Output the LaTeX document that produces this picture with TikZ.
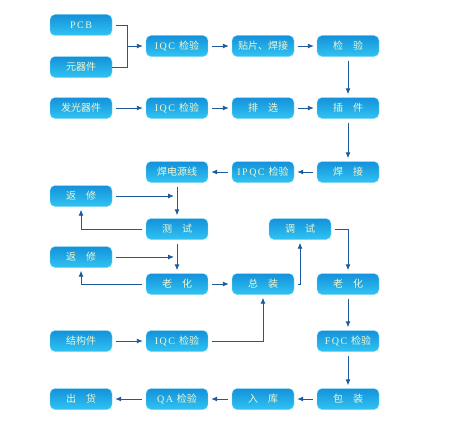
\documentclass[tikz,border=0pt]{standalone}
\usepackage{fontspec}
\usetikzlibrary{arrows.meta}
\newfontfamily\cjk{Noto Sans CJK SC}
\newfontfamily\lat[LetterSpace=15]{Liberation Serif}
\definecolor{boxtop}{RGB}{20,145,218}
\definecolor{boxbot}{RGB}{48,195,242}
\definecolor{boxtext}{RGB}{242,247,208}
\definecolor{conn}{RGB}{30,90,155}
\begin{document}
\begin{tikzpicture}[x=1pt,y=-1pt,
  box/.style={minimum width=62pt,minimum height=21pt,rounded corners=5pt,
    top color=boxtop,bottom color=boxbot,draw=boxbot!60!white,line width=0.4pt,
    text=boxtext,font=\fontsize{10}{11}\selectfont\cjk,inner sep=0pt},
  line/.style={draw=conn,line width=0.9pt},
  arr/.style={line,-{Latex[length=6pt,width=5pt]},shorten >=3pt,shorten <=4pt}]
\useasboundingbox (0,0) rectangle (449,428);
\node[box] (pcb) at (81,25) {\lat PCB};
\node[box] (yqj) at (81,67) {元器件};
\node[box] (iqc1) at (177,46) {\lat IQC \cjk 检验};
\node[box] (tp) at (263,46) {贴片、焊接};
\node[box] (jy) at (348,46) {检\quad 验};
\node[box] (fg) at (81,108) {发光器件};
\node[box] (iqc2) at (177,108) {\lat IQC \cjk 检验};
\node[box] (px) at (263,108) {排\quad 选};
\node[box] (cj) at (348,108) {插\quad 件};
\node[box] (hdy) at (177,172) {焊电源线};
\node[box] (ipqc) at (263,172) {\lat IPQC \cjk 检验};
\node[box] (hj) at (348,172) {焊\quad 接};
\node[box] (fx1) at (81,196) {返\quad 修};
\node[box] (cs) at (177,229) {测\quad 试};
\node[box] (ts) at (300,229) {调\quad 试};
\node[box] (fx2) at (81,257) {返\quad 修};
\node[box] (lh1) at (177,284) {老\quad 化};
\node[box] (zz) at (263,284) {总\quad 装};
\node[box] (lh2) at (348,284) {老\quad 化};
\node[box] (jgj) at (81,341) {结构件};
\node[box] (iqc3) at (177,341) {\lat IQC \cjk 检验};
\node[box] (fqc) at (348,341) {\lat FQC \cjk 检验};
\node[box] (ch) at (81,399) {出\quad 货};
\node[box] (qa) at (177,399) {\lat QA \cjk 检验};
\node[box] (rk) at (263,399) {入\quad 库};
\node[box] (bz) at (348,399) {包\quad 装};
\coordinate (b1) at (127,25);
\coordinate (b2) at (127,67);
\coordinate (bm) at (127,46);
\coordinate (j1) at (177,196);
\coordinate (j2) at (177,257);
\coordinate (e1) at (81,229);
\coordinate (e2) at (81,284);
\coordinate (e3) at (300,284);
\coordinate (e4) at (348,229);
\coordinate (e5) at (263,341);
% bracket
\draw[line,shorten <=4pt] (pcb.east) -- (b1) -- (b2) -- (b2 -| yqj.east);
\draw[arr,shorten <=0pt] (bm) -- (iqc1.west);
\draw[arr] (iqc1) -- (tp);
\draw[arr] (tp) -- (jy);
\draw[arr] (jy) -- (cj);
\draw[arr] (fg) -- (iqc2);
\draw[arr] (iqc2) -- (px);
\draw[arr] (px) -- (cj);
\draw[arr] (cj) -- (hj);
\draw[arr] (hj) -- (ipqc);
\draw[arr] (ipqc) -- (hdy);
\draw[arr] (hdy) -- (cs);
\draw[arr] (fx1.east) -- (j1);
\draw[arr] (cs.west) -- (e1) -- (fx1.south);
\draw[arr] (cs) -- (lh1);
\draw[arr] (fx2.east) -- (j2);
\draw[arr] (lh1.west) -- (e2) -- (fx2.south);
\draw[arr] (lh1) -- (zz);
\draw[arr] (zz.east) -- (e3) -- (ts.south);
\draw[arr] (ts.east) -- (e4) -- (lh2.north);
\draw[arr] (jgj) -- (iqc3);
\draw[arr] (iqc3.east) -- (e5) -- (zz.south);
\draw[arr] (lh2) -- (fqc);
\draw[arr] (fqc) -- (bz);
\draw[arr] (bz) -- (rk);
\draw[arr] (rk) -- (qa);
\draw[arr] (qa) -- (ch);
\end{tikzpicture}
\end{document}
